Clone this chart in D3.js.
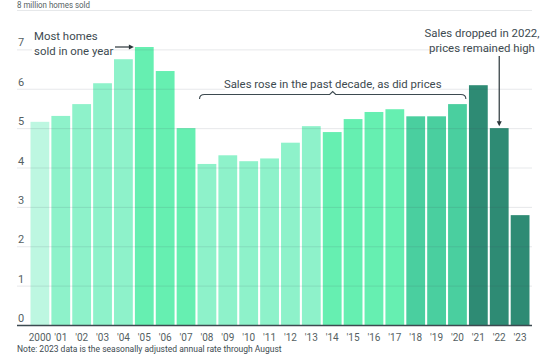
<!DOCTYPE html>
<html><head><meta charset="utf-8">
<script src="https://cdn.jsdelivr.net/npm/d3@7"></script>
<style>
html,body{margin:0;padding:0;background:#fff;}
svg{display:block;}
text{font-family:"Roboto","Noto Sans",sans-serif;}
</style></head>
<body>
<svg id="chart" width="560" height="354"></svg>
<script>
const years = ["2000","'01","'02","'03","'04","'05","'06","'07","'08","'09","'10","'11","'12","'13","'14","'15","'16","'17","'18","'19","'20","'21","'22","'23"];
const sales = [5.16,5.31,5.61,6.14,6.75,7.06,6.45,5.0,4.09,4.31,4.16,4.23,4.63,5.05,4.9,5.23,5.41,5.48,5.3,5.3,5.61,6.09,5.0,2.79];
const groups = [0,1,1,1,1,2,2,2,1,1,1,1,1,1,2,2,2,2,3,3,3,4,4,4];
const groupColors = ["#bdf7e1","#8ef2ca","#66efb1","#4acf9f","#2e8b74"];
const yTicks = [0,1,2,3,4,5,6,7,8];

const svg = d3.select("#chart");
const x = d3.scaleBand().domain(years).range([30.5, 529.5]).paddingInner(0.1).paddingOuter(0);
const y = d3.scaleLinear().domain([0, 8]).range([325, 10]);
const gridL = 17, gridR = 532;
const ink = "#3d4a50";

// bars
svg.append("g").selectAll("rect").data(sales).join("rect")
  .attr("x", (d,i) => x(years[i]))
  .attr("width", x.bandwidth())
  .attr("y", d => y(d))
  .attr("height", d => y(0) - y(d))
  .attr("fill", (d,i) => groupColors[groups[i]]);

// gridlines (on top, translucent)
svg.append("g").selectAll("line").data(yTicks.filter(t => t > 0)).join("line")
  .attr("x1", gridL).attr("x2", gridR)
  .attr("y1", d => y(d) + 0.5).attr("y2", d => y(d) + 0.5)
  .attr("stroke", "rgba(60,80,90,0.13)").attr("stroke-width", 1);

// y labels
svg.append("g").selectAll("text").data(yTicks.filter(t => t < 8)).join("text")
  .attr("x", gridL + 1).attr("y", d => y(d) - 3)
  .attr("font-size", 11).attr("fill", "#555f63")
  .text(d => d);
svg.append("text").attr("x", gridL).attr("y", y(8) - 2.5)
  .attr("font-size", 9.5).attr("fill", "#555f63")
  .attr("font-family", "'DejaVu Sans Condensed','Liberation Sans Narrow',sans-serif")
  .attr("textLength", 73).attr("lengthAdjust", "spacingAndGlyphs")
  .text("8 million homes sold");

// baseline axis
svg.append("line").attr("x1", gridL).attr("x2", gridR)
  .attr("y1", y(0) + 0.5).attr("y2", y(0) + 0.5)
  .attr("stroke", ink).attr("stroke-width", 1.5);

// x labels
const xAxis = d3.axisBottom(x).tickSize(0).tickPadding(9);
const gx = svg.append("g").attr("transform", `translate(0,${y(0)})`).call(xAxis);
gx.select(".domain").remove();
gx.selectAll("text").attr("font-size", 10).attr("fill", "#555f63")
  .attr("font-family", "Roboto,'Noto Sans',sans-serif");

// annotation: most homes
const fs = 11.4;
const ann = svg.append("g").attr("fill", ink).attr("font-size", fs);
ann.append("rect").attr("x", 32).attr("y", 42).attr("width", 80).attr("height", 14).attr("fill", "#fff");
ann.append("text").attr("x", 34).attr("y", 40).text("Most homes");
ann.append("text").attr("x", 34).attr("y", 55).text("sold in one year");
const ax = x("'05");
svg.append("line").attr("x1", 115).attr("x2", ax - 4).attr("y1", 47).attr("y2", 47)
  .attr("stroke", "#2a3539").attr("stroke-width", 1.2);
svg.append("path").attr("d", `M${ax-1},47 L${ax-6},44.5 L${ax-6},49.5 Z`).attr("fill", "#2a3539");

// bracket annotation
const bx1 = x("'08") + 2, bx2 = x("'20") + x.bandwidth() - 1;
const bmid = (bx1 + bx2) / 2;
svg.append("rect").attr("x", 225).attr("y", 78).attr("width", 213).attr("height", 14).attr("fill", "#fff");
svg.append("text").attr("x", bmid).attr("y", 88).attr("text-anchor", "middle")
  .attr("font-size", fs).attr("fill", ink).text("Sales rose in the past decade, as did prices");
svg.append("path")
  .attr("d", `M${bx1},99 Q${bx1},94.5 ${bx1+5},94.5 L${bmid-3},94.5 L${bmid},91.5 L${bmid+3},94.5 L${bx2-5},94.5 Q${bx2},94.5 ${bx2},99`)
  .attr("fill", "none").attr("stroke", ink).attr("stroke-width", 1.1);

// annotation 2022
const cx22 = x("'22") + x.bandwidth() / 2;
const a2 = svg.append("g").attr("fill", ink).attr("font-size", fs).attr("text-anchor", "middle");
a2.append("text").attr("x", 482).attr("y", 37).text("Sales dropped in 2022,");
a2.append("text").attr("x", 482).attr("y", 52).text("prices remained high");
svg.append("line").attr("x1", cx22).attr("x2", cx22).attr("y1", 56).attr("y2", y(5.0) - 6)
  .attr("stroke", "#2a3539").attr("stroke-width", 1.2);
svg.append("path").attr("d", `M${cx22},${y(5.0)-2} L${cx22-2.5},${y(5.0)-7} L${cx22+2.5},${y(5.0)-7} Z`).attr("fill", "#2a3539");

// footnote (at bottom edge)
svg.append("text").attr("x", 17).attr("y", 352).attr("font-size", 8.5).attr("fill", ink)
  .text("Note: 2023 data is the seasonally adjusted annual rate through August");
</script>
</body></html>
